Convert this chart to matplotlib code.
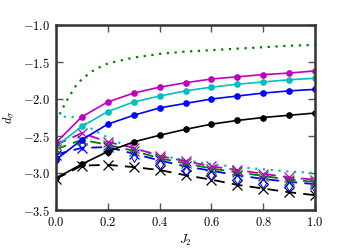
import matplotlib
matplotlib.use("Agg")
import matplotlib.pyplot as plt
from matplotlib.ticker import FuncFormatter

plt.rcParams["mathtext.fontset"] = "cm"

# J2 grid for the marked series
j2 = [0.0, 0.1, 0.2, 0.3, 0.4, 0.5, 0.6, 0.7, 0.8, 0.9, 1.0]

# solid lines, filled circles
solid_black = [-3.07, -2.88, -2.71, -2.58, -2.49, -2.41, -2.34, -2.29, -2.25, -2.22, -2.19]
solid_blue = [-2.82, -2.55, -2.34, -2.22, -2.12, -2.06, -2.00, -1.96, -1.92, -1.89, -1.87]
solid_cyan = [-2.64, -2.37, -2.17, -2.04, -1.96, -1.89, -1.84, -1.80, -1.77, -1.74, -1.72]
solid_magenta = [-2.59, -2.24, -2.04, -1.92, -1.84, -1.78, -1.73, -1.70, -1.67, -1.65, -1.62]

# dashed lines, crosses / diamonds
dash_magenta = [-2.62, -2.46, -2.58, -2.66, -2.77, -2.84, -2.91, -2.96, -3.01, -3.06, -3.09]
dash_green = [-2.68, -2.55, -2.62, -2.70, -2.80, -2.87, -2.94, -2.99, -3.04, -3.09, -3.12]
dash_blue = [-2.75, -2.66, -2.65, -2.74, -2.83, -2.91, -2.97, -3.03, -3.08, -3.12, -3.15]
diam_blue = [-2.80, -2.62, -2.70, -2.79, -2.88, -2.97, -3.03, -3.08, -3.13, -3.17, -3.20]
dash_black = [-3.08, -2.90, -2.89, -2.92, -2.96, -3.03, -3.09, -3.16, -3.21, -3.26, -3.30]

# dotted curves
green_x = [0.0, 0.025, 0.05, 0.075, 0.1, 0.15, 0.2, 0.3, 0.4, 0.5, 0.6, 0.7, 0.8, 0.9, 1.0]
green_y = [-2.30, -2.13, -1.97, -1.83, -1.73, -1.60, -1.52, -1.44, -1.39, -1.36, -1.34, -1.32, -1.30, -1.28, -1.27]
cyan_x = [0.0, 0.05, 0.09, 0.12, 0.15, 0.2, 0.25, 0.3, 0.4, 0.5, 0.6, 0.7, 0.8, 0.9, 1.0]
cyan_y = [-2.24, -2.24, -2.25, -2.36, -2.43, -2.52, -2.60, -2.67, -2.76, -2.83, -2.88, -2.92, -2.95, -2.98, -3.00]


def main():
    fig = plt.figure(figsize=(3.5, 2.5), dpi=100)
    ax = fig.add_axes([0.16, 0.16, 0.74, 0.74])

    ax.plot(green_x, green_y, color="green", ls=":", lw=1.6, dashes=(1, 2.5))
    ax.plot(cyan_x, cyan_y, color="c", ls=":", lw=1.6, dashes=(1, 2.5))

    for ys, c in [(dash_black, "k"), (dash_blue, "b"), (dash_green, "g"), (dash_magenta, "m")]:
        ax.plot(j2, ys, color=c, ls="--", lw=1.3, marker="x", ms=7, mew=0.9, dashes=(6, 4))
    ax.plot(j2, diam_blue, color="b", ls="none", marker="d", ms=5.5, mfc="none", mew=0.7)

    for ys, c in [(solid_black, "k"), (solid_blue, "b"), (solid_cyan, "c"), (solid_magenta, "m")]:
        ax.plot(j2, ys, color=c, ls="-", lw=1.2, marker="o", ms=3.8, mec=c)

    ax.set_xlim(0, 1)
    ax.set_ylim(-3.5, -1.0)
    ax.set_xticks([0.0, 0.2, 0.4, 0.6, 0.8, 1.0])
    ax.set_yticks([-3.5, -3.0, -2.5, -2.0, -1.5, -1.0])
    fmt = FuncFormatter(lambda v, p: r"$%.1f$" % v)
    ax.xaxis.set_major_formatter(fmt)
    ax.yaxis.set_major_formatter(fmt)
    ax.tick_params(direction="in", top=True, right=True, length=5, width=1,
                   color="#555555", labelsize=9, pad=4)
    for s in ax.spines.values():
        s.set_linewidth(1.8)
        s.set_color("#333333")

    ax.set_xlabel(r"$J_2$", fontsize=9, labelpad=3)
    ax.set_ylabel(r"$d_\sigma$", fontsize=9, labelpad=5)

    fig.savefig("out.png", dpi=100)
    plt.close(fig)


if __name__ == "__main__":
    main()
